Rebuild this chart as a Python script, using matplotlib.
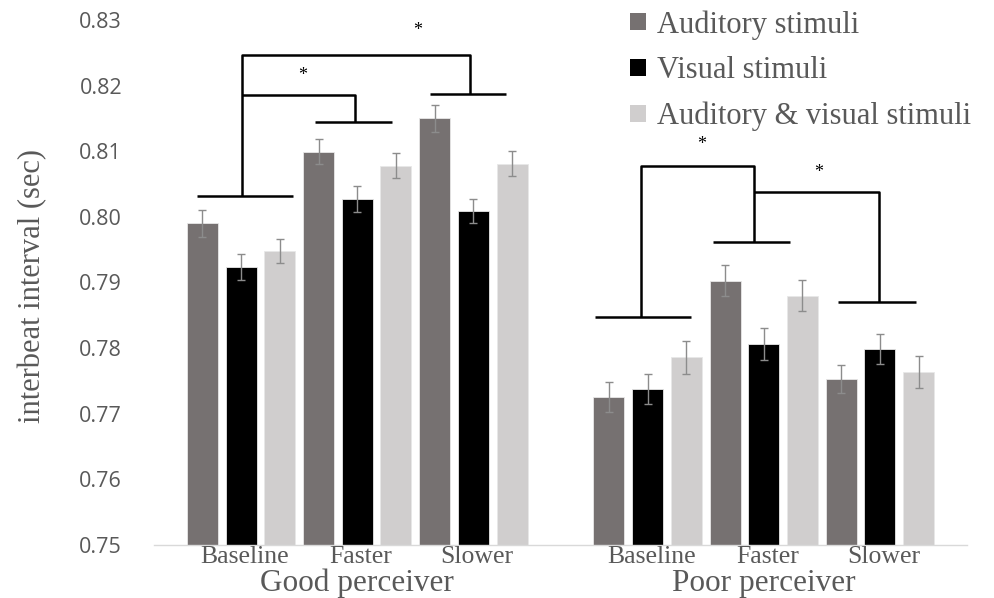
import matplotlib
matplotlib.use("Agg")
import matplotlib.pyplot as plt
from matplotlib.patches import Patch
import matplotlib.transforms as mtransforms
import numpy as np

# ---------------- data ----------------
groups = ["Good perceiver", "Poor perceiver"]
conditions = ["Baseline", "Faster", "Slower"]
series_names = ["Auditory stimuli", "Visual stimuli", "Auditory & visual stimuli"]

good_aud = [0.7990, 0.8099, 0.8150]
good_vis = [0.7924, 0.8027, 0.8009]
good_av = [0.7948, 0.8078, 0.8081]
poor_aud = [0.7726, 0.7903, 0.7753]
poor_vis = [0.7738, 0.7806, 0.7799]
poor_av = [0.7786, 0.7880, 0.7764]

good_aud_err = [0.0020, 0.0019, 0.0020]
good_vis_err = [0.0020, 0.0020, 0.0018]
good_av_err = [0.0019, 0.0019, 0.0019]
poor_aud_err = [0.0023, 0.0024, 0.0022]
poor_vis_err = [0.0023, 0.0024, 0.0023]
poor_av_err = [0.0025, 0.0024, 0.0024]

y_ticks = [0.75, 0.76, 0.77, 0.78, 0.79, 0.80, 0.81, 0.82, 0.83]

# significance brackets (polylines in data units) and stars
good_brackets = [
    [(-0.15, 0.8032), (2.33, 0.8032)],
    [(1.03, 0.8032), (1.03, 0.8247), (6.90, 0.8247), (6.90, 0.8188)],
    [(5.87, 0.8188), (7.85, 0.8188)],
    [(1.03, 0.8186), (3.95, 0.8186), (3.95, 0.8145)],
    [(2.90, 0.8145), (4.90, 0.8145)],
]
poor_brackets = [
    [(10.14, 0.7848), (12.63, 0.7848)],
    [(11.34, 0.7848), (11.34, 0.8078), (14.24, 0.8078), (14.24, 0.7961)],
    [(13.20, 0.7961), (15.18, 0.7961)],
    [(14.24, 0.8038), (17.47, 0.8038), (17.47, 0.7870)],
    [(16.43, 0.7870), (18.43, 0.7870)],
]
stars = [(2.59, 0.8215), (5.57, 0.8284), (12.89, 0.8110), (15.92, 0.8067)]

# ---------------- styles ----------------
colors = ["#767171", "#000000", "#D0CECE"]
text_gray = "#595959"
serif = ["Liberation Serif", "DejaVu Serif"]

fig = plt.figure(figsize=(9.95, 5.98), dpi=100)
ax = fig.add_axes([154 / 995, 1 - 545 / 598, (967 - 154) / 995, (545 - 20) / 598])

values = [[good_aud, good_vis, good_av], [poor_aud, poor_vis, poor_av]]
errors = [[good_aud_err, good_vis_err, good_av_err], [poor_aud_err, poor_vis_err, poor_av_err]]
group_offsets = [0.0, 10.5]
bar_w = 0.80

for g, off in enumerate(group_offsets):
    for c in range(len(conditions)):
        for s in range(3):
            x = off + c * 3 + s
            ax.bar(x, values[g][s][c], width=bar_w, bottom=0,
                   color=colors[s], edgecolor="#e8e8e8", linewidth=0.6, zorder=2)
            ax.errorbar(x, values[g][s][c], yerr=errors[g][s][c], fmt="none",
                        ecolor="#8c8c8c", elinewidth=1.0, capsize=3, capthick=1.0, zorder=3)

for br in good_brackets + poor_brackets:
    xs, ys = zip(*br)
    ax.plot(xs, ys, color="black", lw=1.8, solid_capstyle="butt", clip_on=False, zorder=4)
for sx, sy in stars:
    ax.text(sx, sy, "*", ha="center", va="center", fontsize=13, family=serif, color="black")

ax.set_xlim(-1.25, 19.75)
ax.set_ylim(0.75, 0.83)
ax.set_yticks(y_ticks)
ax.set_yticklabels([f"{v:.2f}" for v in y_ticks], family="Open Sans", fontsize=15.5, color=text_gray)
ax.tick_params(axis="y", length=0, pad=23)
ax.set_xticks([])
for sp in ["top", "right", "left"]:
    ax.spines[sp].set_visible(False)
ax.spines["bottom"].set_color("#d9d9d9")
ax.spines["bottom"].set_linewidth(1.0)

trans = mtransforms.blended_transform_factory(ax.transData, ax.transAxes)
for g, off in enumerate(group_offsets):
    for c, name in enumerate(conditions):
        ax.text(off + c * 3 + 1.1, -0.0343, name, transform=trans, ha="center", va="baseline",
                family=serif, fontsize=18.5, color=text_gray)
    ax.text(off + 4, -0.0867, groups[g], transform=trans, ha="center", va="baseline",
            family=serif, fontsize=22.5, color=text_gray)

fig.text(33 / 995, 1 - 286 / 598, "interbeat interval (sec)", rotation=90, ha="center", va="center",
         family=serif, fontsize=22, color=text_gray)

handles = [Patch(facecolor=col, edgecolor="none") for col in colors]
leg = fig.legend(handles, series_names, loc="upper left", bbox_to_anchor=(618 / 995, 1 + 2 / 598),
                 frameon=False, prop={"family": serif, "size": 22}, handlelength=0.52,
                 handleheight=0.49, handletextpad=0.36, labelspacing=0.54, borderaxespad=0)
for t in leg.get_texts():
    t.set_color(text_gray)

fig.savefig("out.png", dpi=100)
